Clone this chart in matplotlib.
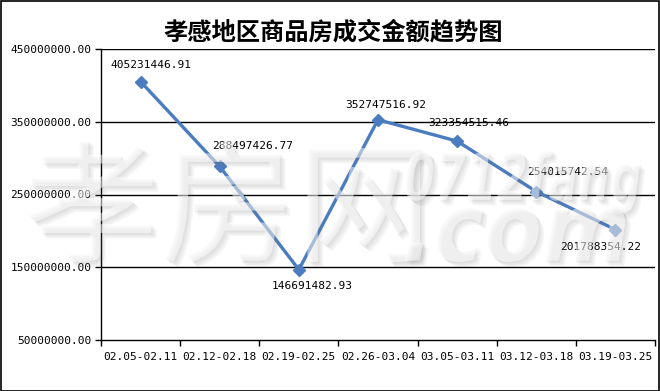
import matplotlib
matplotlib.use("Agg")
import matplotlib.pyplot as plt
from matplotlib.font_manager import FontProperties
from matplotlib.textpath import TextPath
from matplotlib.patches import PathPatch, Rectangle
from matplotlib.transforms import Affine2D
from matplotlib import patheffects as pe

# ---- data ----
weeks = ["02.05-02.11", "02.12-02.18", "02.19-02.25", "02.26-03.04",
         "03.05-03.11", "03.12-03.18", "03.19-03.25"]
amounts = [405231446.91, 288497426.77, 146691482.93, 352747516.92,
           323354515.46, 254015742.54, 201788354.22]
y_ticks = [50000000, 150000000, 250000000, 350000000, 450000000]
title = "孝感地区商品房成交金额趋势图"

# label offsets in pixels (dx, dy up)
label_offsets = [(10, 17), (33, 20), (13, -16), (8, 15), (12, 18), (31, 20), (-15, -17)]

W, H = 660, 391
fig = plt.figure(figsize=(W / 100, H / 100), dpi=100)
fig.patch.set_facecolor("white")

mono = "DejaVu Sans Mono"
cjk = "Noto Sans CJK SC"

# plot area in pixel coordinates
px0, px1, py_top, py_bot = 101, 655, 49, 340
ax = fig.add_axes([px0 / W, (H - py_bot) / H, (px1 - px0) / W, (py_bot - py_top) / H])
ax.set_facecolor("none")

x = list(range(len(weeks)))
ax.plot(x, amounts, color="#4a7cbf", lw=2.4, marker="D", markersize=5.8,
        markerfacecolor="#4a7cbf", markeredgecolor="#4a7cbf", zorder=3, clip_on=False)

for xi, v, (dx, dy) in zip(x, amounts, label_offsets):
    ax.annotate(f"{v:.2f}", (xi, v), xytext=(dx * 0.72, dy * 0.72),
                textcoords="offset points", ha="center", va="center",
                fontsize=8, family=mono, color="black", zorder=4)

ax.set_xlim(-0.5, len(weeks) - 0.5)
ax.set_ylim(y_ticks[0], y_ticks[-1])
ax.set_yticks(y_ticks)
ax.set_yticklabels([f"{t:.2f}" for t in y_ticks], family=mono, fontsize=8)
ax.set_xticks(x)
ax.set_xticklabels(weeks, family=mono, fontsize=8)
ax.set_xticks([i - 0.5 for i in range(len(weeks) + 1)], minor=True)
ax.tick_params(axis="x", which="major", length=0, pad=9)
ax.tick_params(axis="x", which="minor", length=4, width=1, direction="out", color="black")
ax.tick_params(axis="y", length=4, width=1, direction="out", pad=3)

for yv in y_ticks[1:]:
    ax.axhline(yv, color="black", lw=1, zorder=1)

for s in ["top", "right"]:
    ax.spines[s].set_visible(False)
for s in ["left", "bottom"]:
    ax.spines[s].set_linewidth(1)
    ax.spines[s].set_color("black")

fig.text(333 / W, 1 - 32 / H, title, ha="center", va="center",
         fontsize=17.5, fontweight="bold", family=[cjk, "DejaVu Sans"])

# site watermark, white with a soft shadow
shadow = [pe.SimplePatchShadow(offset=(k, -k), shadow_rgbFace="0.45", alpha=0.06)
          for k in (1, 2, 3, 4)] + [pe.Normal()]


def stamp(text, x0, y0, x1, y1, prop):
    tp = TextPath((0, 0), text, prop=prop, size=100)
    ext = tp.get_extents()
    tr = (Affine2D().translate(-ext.x0, -ext.y0)
          .scale((x1 - x0) / ext.width / W, (y1 - y0) / ext.height / H)
          .translate(x0 / W, 1 - y1 / H))
    patch = PathPatch(tr.transform_path(tp), transform=fig.transFigure,
                      facecolor="white", edgecolor="none", alpha=0.5, zorder=20)
    patch.set_path_effects(shadow)
    fig.add_artist(patch)


stamp("孝房网", 28, 140, 420, 262, FontProperties(family=cjk, weight="medium"))
stamp("0712fang", 405, 150, 640, 214,
      FontProperties(family="DejaVu Sans", weight="bold", style="oblique"))
stamp(".com", 405, 207, 625, 262,
      FontProperties(family="DejaVu Sans", weight="bold", style="oblique"))

fig.add_artist(Rectangle((0.5 / W, 0.5 / H), (W - 1.5) / W, (H - 1.5) / H,
                         transform=fig.transFigure, fill=False,
                         edgecolor="black", lw=1.2, zorder=30))

fig.savefig("out.png", dpi=100)
